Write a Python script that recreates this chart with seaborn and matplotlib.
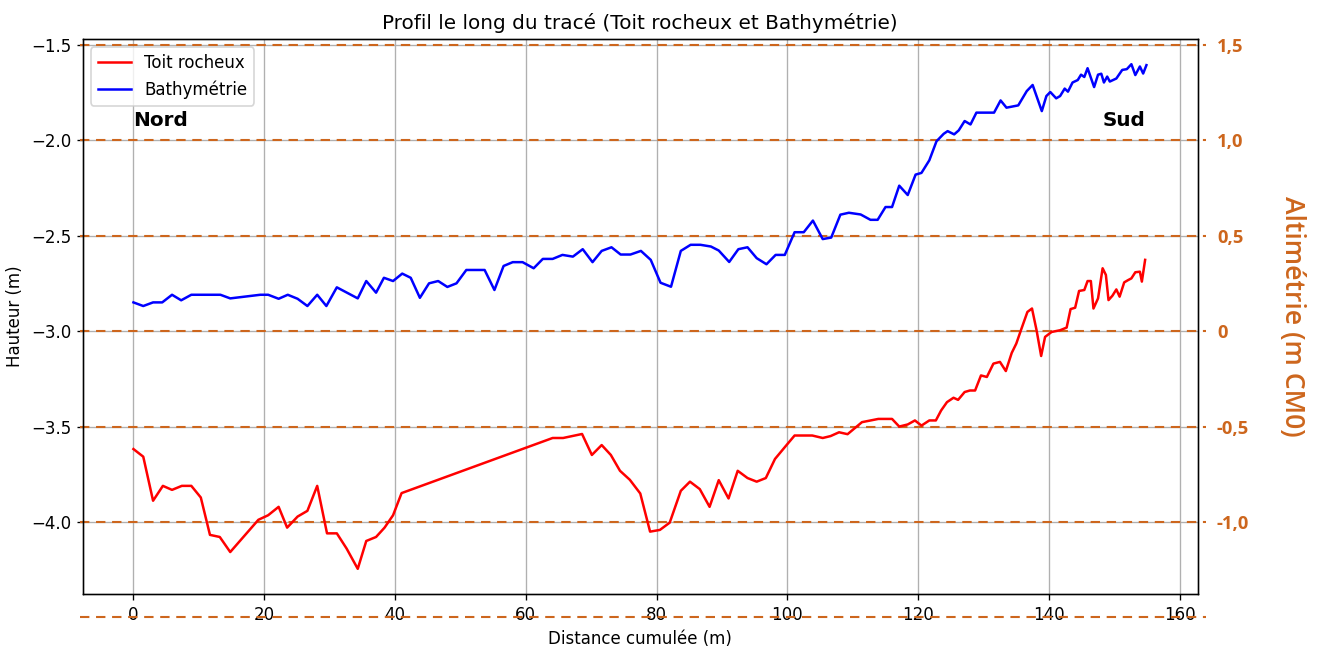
import matplotlib
matplotlib.use("Agg")
import matplotlib.pyplot as plt
import seaborn as sns
import pandas as pd

# Bathymetry profile (distance in m, height in m)
bathy_dist = [0.0, 1.5, 3.0, 4.4, 5.9, 7.3, 8.85, 13.3, 14.8, 19.4, 20.6, 22.2, 23.6, 25.1,
              26.6, 28.1, 29.5, 31.1, 34.3, 35.6, 37.1, 38.3, 39.7, 41.1, 42.4, 43.8, 45.2,
              46.6, 48.0, 49.4, 50.9, 53.7, 55.2, 56.6, 58.0, 59.5, 61.2, 62.6, 64.1, 65.6,
              67.2, 68.7, 70.2, 71.6, 73.1, 74.5, 76.0, 77.6, 79.1, 80.6, 82.2, 83.7, 85.2,
              86.7, 88.3, 89.5, 91.1, 92.5, 93.9, 95.3, 96.8, 98.2, 99.6, 101.1, 102.5,
              103.9, 105.4, 106.7, 108.1, 109.4, 111.2, 112.7, 113.8, 115.0, 116.0, 117.1,
              118.4, 119.6, 120.5, 121.7, 122.8, 123.9, 124.5, 125.5, 126.2, 127.1, 128.0,
              128.9, 131.6, 132.6, 133.5, 135.3, 136.6, 137.5, 138.9, 139.6, 140.2, 141.1,
              141.7, 142.4, 142.9, 143.6, 144.4, 144.9, 145.4, 145.9, 146.9, 147.5, 148.0,
              148.4, 148.9, 149.3, 150.3, 151.2, 151.9, 152.6, 153.2, 153.9, 154.4, 154.9]
bathy_height = [-2.849, -2.868, -2.849, -2.849, -2.809, -2.838, -2.809, -2.809, -2.828, -2.809,
                -2.809, -2.830, -2.809, -2.830, -2.868, -2.809, -2.868, -2.770, -2.828, -2.737,
                -2.798, -2.720, -2.737, -2.698, -2.720, -2.825, -2.749, -2.737, -2.768, -2.749,
                -2.679, -2.679, -2.784, -2.658, -2.638, -2.638, -2.670, -2.621, -2.621, -2.600,
                -2.609, -2.570, -2.638, -2.579, -2.560, -2.598, -2.598, -2.579, -2.626, -2.746,
                -2.767, -2.579, -2.547, -2.547, -2.556, -2.577, -2.637, -2.570, -2.560, -2.617,
                -2.649, -2.600, -2.600, -2.481, -2.481, -2.420, -2.517, -2.509, -2.389, -2.379,
                -2.388, -2.416, -2.416, -2.349, -2.349, -2.237, -2.286, -2.179, -2.170, -2.104,
                -2.004, -1.965, -1.951, -1.968, -1.947, -1.898, -1.916, -1.854, -1.854, -1.790,
                -1.828, -1.816, -1.741, -1.709, -1.846, -1.767, -1.746, -1.779, -1.767, -1.728,
                -1.744, -1.696, -1.683, -1.655, -1.667, -1.621, -1.720, -1.655, -1.650, -1.696,
                -1.665, -1.691, -1.675, -1.630, -1.626, -1.600, -1.657, -1.612, -1.649, -1.605]

# Rock head profile (distance in m, height in m)
rock_dist = [0.0, 1.5, 3.0, 4.5, 5.9, 7.4, 8.85, 10.3, 11.7, 13.2, 14.8, 19.1, 20.6, 22.2,
             23.5, 25.1, 26.6, 28.1, 29.6, 31.1, 32.6, 34.3, 35.6, 37.1, 38.4, 39.7, 41.0,
             64.1, 65.7, 68.6, 70.1, 71.6, 73.0, 74.4, 75.9, 77.5, 79.0, 80.5, 82.0, 83.7,
             85.1, 86.6, 88.1, 89.5, 91.0, 92.4, 93.9, 95.3, 96.7, 98.1, 99.7, 101.1, 103.8,
             105.4, 106.6, 107.9, 109.2, 111.4, 113.9, 116.0, 117.1, 118.4, 119.5, 120.5,
             121.7, 122.7, 123.5, 124.4, 125.4, 126.1, 127.1, 127.9, 128.7, 129.6, 130.5,
             131.5, 132.5, 133.4, 134.3, 135.0, 135.8, 136.7, 137.4, 138.1, 138.8, 139.4,
             140.4, 141.7, 142.7, 143.3, 144.0, 144.6, 145.4, 145.9, 146.4, 146.8, 147.5,
             148.2, 148.7, 149.1, 149.7, 150.3, 150.8, 151.5, 152.1, 152.6, 153.2, 153.9,
             154.2, 154.7]
rock_height = [-3.618, -3.658, -3.889, -3.811, -3.832, -3.811, -3.811, -3.872, -4.068, -4.079,
               -4.158, -3.989, -3.965, -3.921, -4.030, -3.972, -3.942, -3.811, -4.060, -4.060,
               -4.140, -4.246, -4.100, -4.079, -4.030, -3.965, -3.849, -3.560, -3.560, -3.539,
               -3.649, -3.597, -3.649, -3.732, -3.779, -3.851, -4.051, -4.042, -4.004, -3.837,
               -3.789, -3.828, -3.921, -3.781, -3.877, -3.732, -3.770, -3.789, -3.770, -3.670,
               -3.604, -3.547, -3.547, -3.560, -3.550, -3.530, -3.540, -3.477, -3.460, -3.460,
               -3.500, -3.489, -3.468, -3.495, -3.468, -3.468, -3.416, -3.372, -3.349, -3.360,
               -3.319, -3.311, -3.311, -3.232, -3.240, -3.170, -3.161, -3.209, -3.114, -3.065,
               -2.986, -2.899, -2.881, -2.995, -3.130, -3.030, -3.004, -2.995, -2.981, -2.884,
               -2.877, -2.789, -2.784, -2.737, -2.737, -2.881, -2.828, -2.670, -2.705, -2.837,
               -2.814, -2.781, -2.819, -2.744, -2.732, -2.723, -2.691, -2.688, -2.740, -2.626]

# Reference levels (m, local height) and their CM0 altimetry labels
ref_levels = [-1.5, -2.0, -2.5, -3.0, -3.5, -4.0]
cm0_labels = ["1,5", "1,0", "0,5", "0", "-0,5", "-1,0"]
extra_level = -4.5

ORANGE = "#CD661D"
DPI = 120

fig = plt.figure(figsize=(1320 / DPI, 646 / DPI), dpi=DPI)
ax = fig.add_axes([0.0627, 0.0805, 0.8447, 0.8591])

rock_df = pd.DataFrame({"dist": rock_dist, "height": rock_height})
bathy_df = pd.DataFrame({"dist": bathy_dist, "height": bathy_height})

sns.lineplot(data=rock_df, x="dist", y="height", color="red", linewidth=1.5,
             label="Toit rocheux", sort=False, estimator=None, ax=ax, zorder=3)
sns.lineplot(data=bathy_df, x="dist", y="height", color="blue", linewidth=1.5,
             label="Bathymétrie", sort=False, estimator=None, ax=ax, zorder=3)

ax.grid(True, color="#b0b0b0", linewidth=0.8)

# Dashed CM0 reference lines running slightly past the frame
for lvl in ref_levels + [extra_level]:
    ax.axhline(lvl, xmin=-0.0024, xmax=1.0074, color=ORANGE, linestyle=(0, (4.5, 3.2)),
               linewidth=1.25, clip_on=False, zorder=2)

ax.set_xlim(-7.75, 162.75)
ax.set_ylim(-4.378, -1.468)
ax.set_xticks([0, 20, 40, 60, 80, 100, 120, 140, 160])
ax.set_yticks(ref_levels)

ax.set_title("Profil le long du tracé (Toit rocheux et Bathymétrie)", fontsize=12)
ax.set_xlabel("Distance cumulée (m)", fontsize=10)
ax.set_ylabel("Hauteur (m)", fontsize=10)

ax.text(0, -1.895, "Nord", fontsize=12, fontweight="bold", ha="left", va="center")
ax.text(154.7, -1.895, "Sud", fontsize=12, fontweight="bold", ha="right", va="center")

ax.legend(loc="upper left", fontsize=10)

# Secondary altimetry axis (m CM0)
ax2 = ax.twinx()
ax2.set_ylim(ax.get_ylim())
ax2.set_yticks(ref_levels)
ax2.set_yticklabels(cm0_labels, fontfamily="Open Sans", fontweight="bold",
                    fontsize=11, color=ORANGE)
ax2.tick_params(axis="y", length=0, pad=11.5)
ax2.set_ylabel("Altimétrie (m CM0)", rotation=270, va="bottom", color=ORANGE,
               fontfamily="Open Sans", fontweight="semibold", fontsize=16, labelpad=17)

fig.savefig("out.png", dpi=DPI)
